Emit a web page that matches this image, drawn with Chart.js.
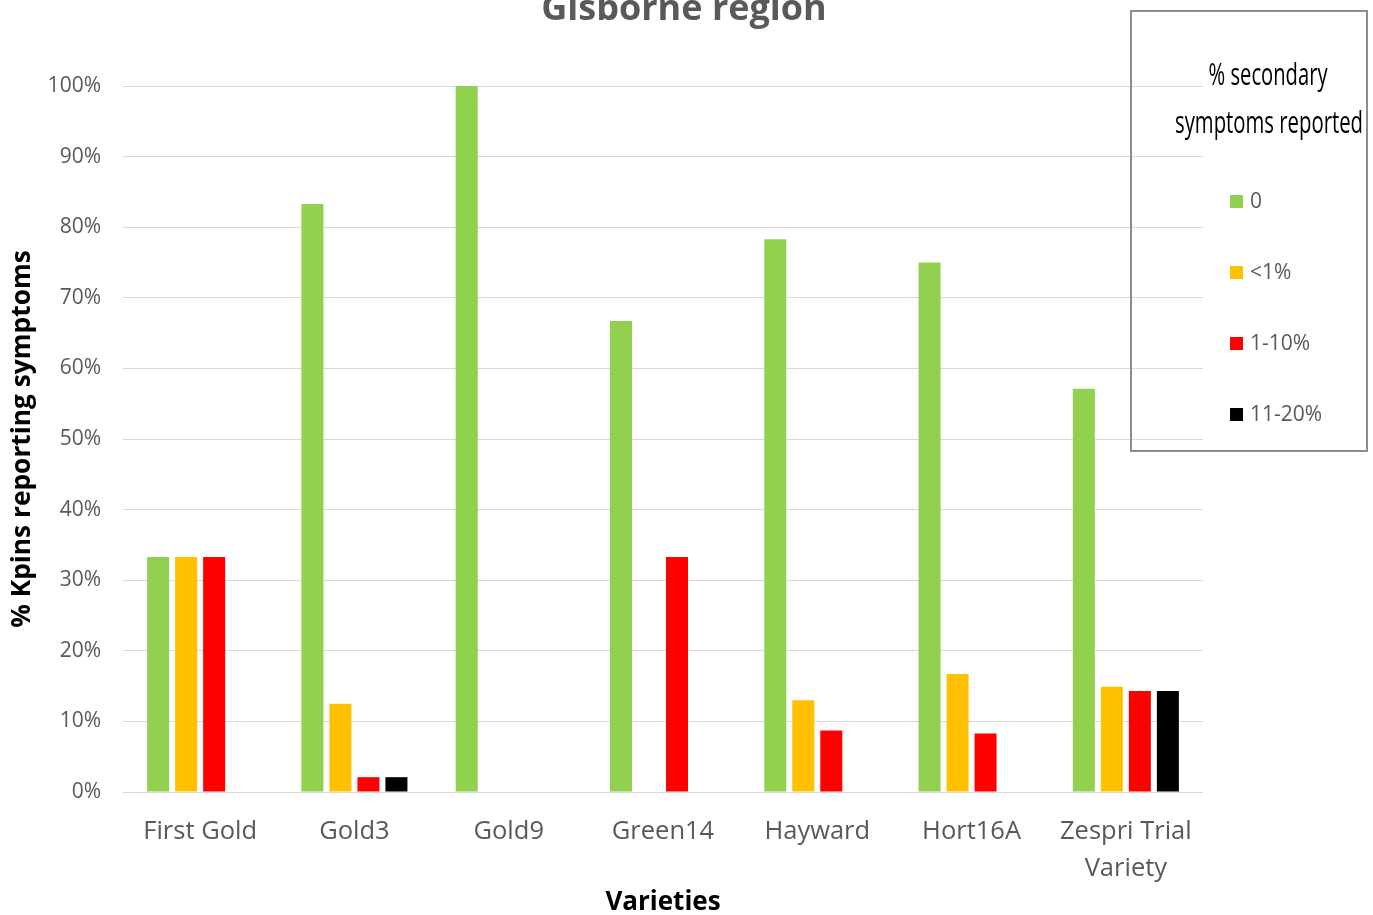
<!DOCTYPE html>
<html>
<head>
<meta charset="utf-8">
<script src="https://cdn.jsdelivr.net/npm/chart.js@4/dist/chart.umd.min.js"></script>
<style>
html,body{margin:0;padding:0;background:#fff;}
#wrap{width:1373px;height:915px;position:relative;}
</style>
</head>
<body>
<div id="wrap"><canvas id="c" width="1373" height="915"></canvas></div>
<script>
const chartTitle = 'Gisborne region';
const legendTitle = ['% secondary', 'symptoms reported'];
const yAxisTitle = '% Kpins reporting symptoms';
const xAxisTitle = 'Varieties';
const categories = ['First Gold', 'Gold3', 'Gold9', 'Green14', 'Hayward', 'Hort16A', ['Zespri Trial', 'Variety']];
const seriesNames = ['0', '<1%', '1-10%', '11-20%'];
const seriesColors = ['#92D050', '#FFC000', '#FF0000', '#000000'];
const valuesZero   = [33.3, 83.3, 100, 66.7, 78.3, 75.0, 57.1];
const valuesLt1    = [33.3, 12.5, 0, 0, 13.0, 16.7, 14.9];
const values1to10  = [33.3, 2.1, 0, 33.3, 8.7, 8.3, 14.3];
const values11to20 = [0, 2.1, 0, 0, 0, 0, 14.3];
const yTicks = [0, 10, 20, 30, 40, 50, 60, 70, 80, 90, 100];

const seriesValues = [valuesZero, valuesLt1, values1to10, values11to20];

const FONT = "'Open Sans', 'Liberation Sans', sans-serif";

const overlayPlugin = {
  id: 'overlay',
  afterDraw(chart) {
    const ctx = chart.ctx;
    ctx.save();
    // Chart title (partially cut at top)
    ctx.fillStyle = '#595959';
    ctx.font = "bold 36px " + FONT;
    ctx.textAlign = 'center';
    ctx.textBaseline = 'alphabetic';
    ctx.fillText(chartTitle, 684, 20);

    // Legend box
    ctx.strokeStyle = '#8c8c8c';
    ctx.lineWidth = 2;
    ctx.strokeRect(1131, 11, 236, 440);

    // Legend title in condensed style
    ctx.fillStyle = '#000';
    ctx.font = "28px " + FONT;
    ctx.textBaseline = 'middle';
    const tw = [119, 188];
    const ty = [76, 124];
    const tx = [1268, 1269];
    legendTitle.forEach((t, i) => {
      const w = ctx.measureText(t).width;
      const sx = tw[i] / w;
      ctx.save();
      ctx.translate(tx[i], ty[i]);
      ctx.scale(sx, 1.08);
      ctx.textAlign = 'center';
      ctx.fillText(t, 0, 0);
      ctx.restore();
    });

    // Legend items
    ctx.font = "21px " + FONT;
    ctx.textAlign = 'left';
    chart.data.datasets.forEach((ds, i) => {
      const y = 201 + i * 71;
      ctx.fillStyle = ds.backgroundColor;
      ctx.fillRect(1230, y - 6, 13, 13);
      ctx.fillStyle = '#595959';
      ctx.fillText(ds.label, 1250, y + 1);
    });
    ctx.restore();
  }
};

new Chart(document.getElementById('c'), {
  type: 'bar',
  data: {
    labels: categories,
    datasets: seriesNames.map((n, i) => ({
      label: n,
      data: seriesValues[i],
      backgroundColor: seriesColors[i],
      borderWidth: 0,
      categoryPercentage: 0.726,
      barPercentage: 0.786
    }))
  },
  options: {
    responsive: false,
    animation: false,
    devicePixelRatio: 1,
    layout: { padding: { top: 86, right: 170, left: 1, bottom: 0 } },
    plugins: {
      legend: { display: false },
      title: { display: false },
      tooltip: { enabled: false }
    },
    scales: {
      x: {
        grid: { display: false, drawTicks: false },
        border: { display: false },
        ticks: {
          color: '#595959',
          font: { family: FONT, size: 25.5, lineHeight: 1.42 },
          padding: 22,
          maxRotation: 0,
          autoSkip: false
        },
        title: {
          display: true,
          text: xAxisTitle,
          color: '#000',
          font: { family: FONT, size: 26, weight: 'bold' },
          padding: { top: 0, bottom: -3 }
        },
        afterFit(scale) { scale.height = 915 - 792; }
      },
      y: {
        min: 0,
        max: 100,
        afterBuildTicks(scale) { scale.ticks = yTicks.map(v => ({ value: v })); },
        grid: { color: '#d9d9d9', lineWidth: 1, drawTicks: false },
        border: { display: false },
        ticks: {
          color: '#595959',
          font: { family: FONT, size: 21 },
          padding: 22,
          callback: v => v + '%'
        },
        title: {
          display: true,
          text: yAxisTitle,
          color: '#000',
          font: { family: FONT, size: 26.3, weight: 'bold' },
          padding: { top: 6, bottom: 0 }
        },
        afterFit(scale) { scale.width = 122; }
      }
    }
  },
  plugins: [overlayPlugin]
});
</script>
</body>
</html>
